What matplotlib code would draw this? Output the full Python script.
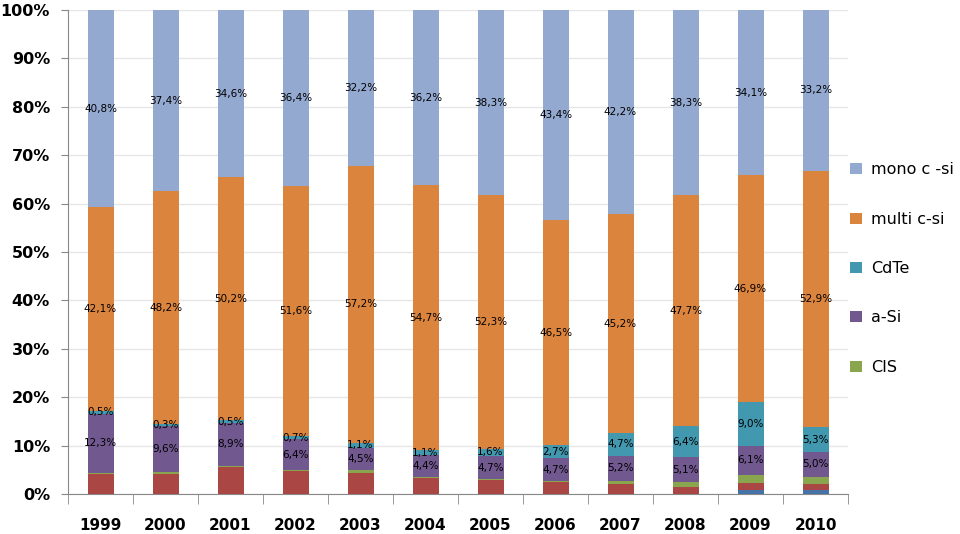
import matplotlib
matplotlib.use("Agg")
import matplotlib.pyplot as plt
import numpy as np

years = ["1999", "2000", "2001", "2002", "2003", "2004", "2005", "2006", "2007", "2008", "2009", "2010"]
other_blue = [0.0, 0.0, 0.0, 0.0, 0.0, 0.0, 0.0, 0.0, 0.0, 0.0, 0.9, 0.9]
other_red = [4.1, 4.2, 5.6, 4.7, 4.3, 3.3, 2.9, 2.5, 2.1, 1.4, 1.4, 1.2]
cis = [0.2, 0.3, 0.2, 0.2, 0.7, 0.3, 0.2, 0.2, 0.6, 1.1, 1.6, 1.5]
a_si = [12.3, 9.6, 8.9, 6.4, 4.5, 4.4, 4.7, 4.7, 5.2, 5.1, 6.1, 5.0]
cdte = [0.5, 0.3, 0.5, 0.7, 1.1, 1.1, 1.6, 2.7, 4.7, 6.4, 9.0, 5.3]
multi = [42.1, 48.2, 50.2, 51.6, 57.2, 54.7, 52.3, 46.5, 45.2, 47.7, 46.9, 52.9]
mono = [40.8, 37.4, 34.6, 36.4, 32.2, 36.2, 38.3, 43.4, 42.2, 38.3, 34.1, 33.2]

series = [
    (None, other_blue, "#4572A7", False),
    (None, other_red, "#AA4643", False),
    ("CIS", cis, "#89A54E", False),
    ("a-Si", a_si, "#71588F", True),
    ("CdTe", cdte, "#4198AF", True),
    ("multi c-si", multi, "#DB843D", True),
    ("mono c -si", mono, "#93A9CF", True),
]

fig = plt.figure(figsize=(9.6, 5.34), dpi=100)
ax = fig.add_axes([68/960, 40/534, 780/960, 484/534])

x = np.arange(len(years))
raw = np.array([s[1] for s in series], dtype=float)
tot = raw.sum(axis=0)
vals = raw / tot * 100.0
bottom = np.zeros(len(years))
handles = {}
for (name, src, color, lab), v in zip(series, vals):
    bars = ax.bar(x, v, 0.4, bottom=bottom, color=color, zorder=3)
    if name:
        handles[name] = bars
    if lab:
        for xi, b, h, s in zip(x, bottom, v, src):
            ax.text(xi, b + h / 2, f"{s:.1f}%".replace(".", ","), ha="center", va="center",
                    fontsize=7.5, color="black", zorder=4)
    bottom += v

ax.set_xlim(-0.5, len(years) - 0.5)
ax.set_ylim(0, 100)
ax.set_yticks(np.arange(0, 101, 10))
ax.set_yticklabels([f"{t}%" for t in range(0, 101, 10)], fontsize=11.5, fontweight="bold")
ax.yaxis.grid(True, color="#E6E6E6", linewidth=1, zorder=0)
ax.set_axisbelow(True)
ax.set_xticks(x)
ax.set_xticklabels(years, fontsize=11, fontweight="bold")
ax.tick_params(axis="x", length=0, pad=17)
ax.set_xticks(np.arange(-0.5, len(years), 1), minor=True)
ax.tick_params(axis="x", which="minor", length=7, color="#888888", direction="out")
ax.tick_params(axis="y", length=5, color="#888888", pad=8)
for sp in ["top", "right"]:
    ax.spines[sp].set_visible(False)
ax.spines["left"].set_color("#888888")
ax.spines["bottom"].set_color("#888888")

order = ["mono c -si", "multi c-si", "CdTe", "a-Si", "CIS"]
leg = fig.legend([handles[n] for n in order], order, loc="upper left",
                 bbox_to_anchor=(836/960, 1 - 148/534), frameon=False, fontsize=11.5,
                 handlelength=0.7, handleheight=0.7, handletextpad=0.6, labelspacing=2.15)

fig.savefig("out.png", dpi=100)
